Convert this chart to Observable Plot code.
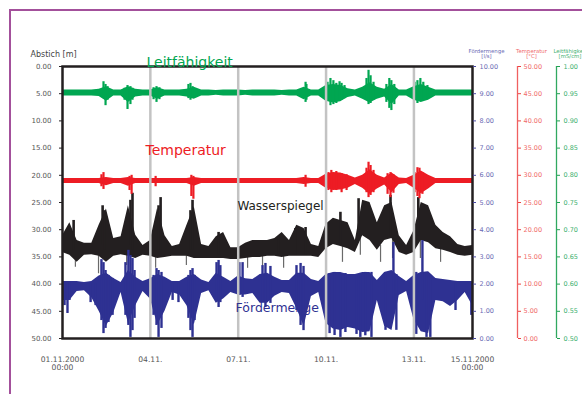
<!DOCTYPE html>
<html><head><meta charset="utf-8">
<script src="https://cdn.jsdelivr.net/npm/d3@7"></script>
<script src="https://cdn.jsdelivr.net/npm/@observablehq/plot@0.6"></script>
<style>
html,body{margin:0;padding:0;background:#fff;}
#wrap{position:relative;width:582px;height:394px;overflow:hidden;background:#fff;}
#border{position:absolute;left:9px;top:9px;width:700px;height:500px;border-left:2px solid #a3509b;border-top:2px solid #a3509b;pointer-events:none;}
</style></head><body>
<div id="wrap"><div id="chart"></div><div id="border"></div></div>
<script>
// ---- base envelopes, 6-hourly samples 01.11.2000 00:00 .. 15.11.2000 00:00 (57 values) ----
const leitHi = [
 0.957,0.957,0.957,0.957,0.957,0.958,0.963,0.957,0.957,0.963,
 0.958,0.957,0.957,0.961,0.957,0.957,0.957,0.958,0.962,0.957,
 0.957,0.956,0.957,0.957,0.957,0.956,0.957,0.957,0.957,0.957,
 0.956,0.957,0.957,0.962,0.957,0.957,0.965,0.967,0.965,0.959,
 0.957,0.962,0.970,0.962,0.958,0.967,0.957,0.957,0.963,0.967,
 0.962,0.957,0.957,0.957,0.957,0.957,0.957];
const leitLo = [
 0.946,0.946,0.946,0.946,0.946,0.945,0.936,0.946,0.946,0.934,
 0.944,0.946,0.946,0.940,0.946,0.946,0.946,0.944,0.940,0.946,
 0.946,0.947,0.946,0.946,0.946,0.947,0.946,0.946,0.946,0.946,
 0.947,0.946,0.946,0.939,0.946,0.946,0.936,0.933,0.935,0.943,
 0.946,0.940,0.933,0.940,0.944,0.930,0.946,0.946,0.938,0.934,
 0.938,0.946,0.946,0.946,0.946,0.946,0.946];
const tempHi = [
 29.4,29.4,29.4,29.4,29.4,29.4,29.6,29.4,29.4,29.6,
 29.4,29.4,29.4,29.4,29.4,29.4,29.4,29.4,29.6,29.4,
 29.4,29.4,29.4,29.4,29.4,29.4,29.4,29.4,29.4,29.4,
 29.4,29.4,29.4,29.6,29.4,29.4,30.2,30.5,30.4,30.0,
 29.5,30.0,31.0,30.0,29.5,30.4,29.5,29.4,30.0,30.8,
 30.0,29.4,29.4,29.4,29.4,29.4,29.4];
const tempLo = [
 28.5,28.5,28.5,28.5,28.5,28.5,28.1,28.5,28.5,28.0,
 28.5,28.5,28.5,28.5,28.5,28.5,28.5,28.5,28.0,28.5,
 28.5,28.5,28.5,28.5,28.5,28.5,28.5,28.5,28.5,28.5,
 28.5,28.5,28.5,28.3,28.5,28.5,27.6,27.2,27.3,27.6,
 28.3,27.6,26.5,27.5,28.2,26.8,28.3,28.5,27.6,26.6,
 27.5,28.5,28.5,28.5,28.5,28.5,28.5];
// Wasserspiegel as Abstich [m]
const wasserTop = [
 31.1,28.7,32.0,32.5,32.5,29.2,26.2,31.6,31.3,25.6,
 31.0,32.9,32.0,26.0,31.1,33.1,32.7,29.2,25.8,32.7,
 33.1,31.3,30.5,33.3,33.3,32.5,32.0,32.0,32.0,31.6,
 30.5,32.0,29.2,29.8,32.7,33.1,29.0,27.9,28.3,28.7,
 32.0,24.6,25.0,28.7,25.6,25.0,31.1,32.9,30.2,25.0,
 25.6,29.2,30.5,31.3,32.7,33.1,32.9];
const wasserBot = [
 34.2,34.7,36.0,34.7,34.6,34.9,36.0,34.9,34.6,34.9,
 35.3,34.7,34.9,35.3,35.1,34.9,34.9,34.9,35.3,35.3,
 35.3,35.3,35.3,35.5,35.5,35.3,35.1,35.1,34.9,34.9,
 35.1,34.9,34.9,34.9,34.9,35.1,33.5,32.7,33.1,33.5,
 34.2,31.1,32.0,33.8,32.0,31.6,34.2,34.7,34.2,32.0,
 32.4,33.5,33.8,34.2,34.7,34.9,34.7];
const foerderHi = [
 2.10,2.10,2.10,2.06,2.10,2.30,2.40,2.21,2.06,2.50,
 2.25,2.10,2.20,2.35,2.25,2.10,2.10,2.25,2.35,2.15,
 2.06,2.40,2.25,2.10,2.30,2.20,2.17,2.35,2.40,2.25,
 2.13,2.13,2.40,2.40,2.17,2.10,2.35,2.43,2.43,2.35,
 2.35,2.43,2.43,2.13,2.43,2.50,2.28,2.10,2.32,2.43,
 2.45,2.21,2.17,2.13,2.10,2.10,2.10];
const foerderLo = [
 1.40,1.40,1.73,1.76,1.50,1.00,0.45,0.95,1.69,0.55,
 1.20,1.73,1.45,0.50,1.00,1.69,1.60,1.20,0.50,1.65,
 1.76,1.30,1.45,1.69,1.60,1.60,1.65,1.30,1.30,1.55,
 1.69,1.65,1.10,0.45,1.54,1.69,0.55,0.35,0.29,0.40,
 0.35,0.22,0.25,1.40,0.45,0.29,1.58,1.73,0.70,0.25,
 0.18,1.40,1.35,1.18,1.40,1.69,1.21];

// ---- narrow spikes: day since 01.11.2000 00:00, upper value, lower value ----
const leitSpikeDay = [1.40,1.47,1.54,2.12,2.22,2.32,2.39,3.11,3.21,3.31,4.30,4.37,4.44,8.30,8.33,9.05,9.15,9.25,9.35,9.46,9.53,9.63,10.38,10.45,10.52,10.62,11.06,11.16,11.23,11.33,12.02,12.12,12.22,12.32,12.46];
const leitSpikeHi  = [0.972,0.967,0.963,0.960,0.965,0.963,0.960,0.961,0.963,0.961,0.967,0.969,0.963,0.971,0.967,0.971,0.978,0.974,0.969,0.972,0.969,0.965,0.978,0.993,0.983,0.971,0.967,0.978,0.974,0.967,0.971,0.974,0.978,0.971,0.965];
const leitSpikeLo  = [0.941,0.928,0.938,0.938,0.921,0.930,0.938,0.939,0.934,0.939,0.941,0.938,0.941,0.934,0.938,0.938,0.928,0.930,0.932,0.936,0.938,0.941,0.938,0.930,0.932,0.938,0.934,0.923,0.919,0.930,0.938,0.932,0.936,0.939,0.941];

const tempSpikeDay = [1.33,1.40,2.29,2.36,3.18,4.40,4.47,8.30,9.08,9.18,9.35,9.53,9.70,10.38,10.45,10.52,10.62,11.10,11.20,11.30,12.02,12.12,12.19,12.29];
const tempSpikeHi  = [30.1,30.5,29.8,30.0,29.8,30.0,29.8,30.0,30.5,30.9,30.7,30.3,30.1,31.3,32.4,31.8,30.9,30.3,30.5,30.1,30.5,31.4,31.3,30.5];
const tempSpikeLo  = [27.9,27.4,27.2,26.5,27.9,26.1,25.6,27.8,27.2,26.8,27.2,26.8,27.2,26.8,25.9,26.3,26.8,26.5,25.9,26.7,26.8,26.1,25.7,26.5];

const wasserSpikeDay = [0.38,1.37,1.43,2.32,2.39,3.28,3.35,4.37,4.44,5.33,7.37,7.95,8.30,9.49,10.11,11.20,12.15];
const wasserSpikeTop = [28.3,25.6,26.5,24.6,23.3,25.6,24.1,26.5,24.6,30.5,31.3,29.8,29.6,26.8,24.3,23.7,24.1];
const wasserSpikeBot = [33.8,32.9,33.8,32.9,33.8,33.8,33.8,33.8,33.8,34.7,34.7,34.7,34.7,32.9,31.1,31.1,31.1];
const wasserWispDay = [0.44,1.23,2.19,3.18,4.23,6.32,6.83,7.55,9.56,10.17,10.86,11.27,12.22,12.91];
const wasserWispTop = [32.9,32.9,32.9,32.9,32.9,33.8,33.8,33.8,32.0,31.1,32.9,31.1,31.1,32.9];
const wasserWispBot = [36.9,38.1,36.6,37.1,36.6,37.1,37.5,37.1,36.0,34.7,36.0,35.3,35.3,36.0];

const foerderSpikeDay = [0.07,0.17,0.24,0.96,1.13,1.33,1.40,1.47,1.57,1.71,2.15,2.25,2.32,2.39,2.46,3.11,3.21,3.28,3.38,3.76,3.96,4.30,4.37,4.44,4.51,5.26,5.33,5.39,6.04,6.15,6.83,6.93,7.10,7.99,8.13,8.23,9.12,9.29,9.49,9.66,10.04,10.17,10.34,10.55,11.03,11.30,11.40,12.08,12.29,12.43,12.56,13.42,13.96];
const foerderSpikeHi  = [2.06,2.02,2.06,2.02,2.02,2.90,2.79,2.50,2.32,2.21,2.79,3.24,3.05,2.94,2.50,2.32,2.57,2.50,2.43,2.02,2.02,2.32,2.50,2.57,2.32,2.79,2.87,2.68,2.79,2.79,2.68,2.76,2.65,2.68,2.76,2.65,2.39,2.43,2.32,2.39,2.35,2.32,2.43,2.43,2.43,3.53,2.35,2.43,3.60,2.43,2.32,2.02,2.02];
const foerderSpikeLo  = [1.21,0.92,1.40,1.32,1.21,0.66,0.18,0.37,0.59,0.85,0.85,0.48,0.04,0.29,0.74,0.85,0.48,0.04,0.37,1.40,1.32,0.74,0.29,0.04,0.66,1.40,1.14,1.32,1.58,1.51,1.32,1.14,1.29,1.03,0.48,0.29,0.18,0.11,0.04,0.22,0.15,0.04,0.10,0.04,0.30,1.40,0.30,0.15,1.40,0.04,0.04,1.03,0.85];

// ---- axes ----
const xStart = new Date(2000, 10, 1), xEnd = new Date(2000, 10, 15);
const xTickDates = [new Date(2000,10,1), new Date(2000,10,4), new Date(2000,10,7), new Date(2000,10,10), new Date(2000,10,13), new Date(2000,10,15)];
const xTickLabels = ["01.11.2000\n00:00", "04.11.", "07.11.", "10.11.", "13.11.", "15.11.2000\n00:00"];
const gridDates = [new Date(2000,10,4), new Date(2000,10,7), new Date(2000,10,10), new Date(2000,10,13)];
const abstichTicks = [0,5,10,15,20,25,30,35,40,45,50];
const foerderTicks = [0,1,2,3,4,5,6,7,8,9,10];
const tempTicks = [0,5,10,15,20,25,30,35,40,45,50];
const leitTicks = [0.50,0.55,0.60,0.65,0.70,0.75,0.80,0.85,0.90,0.95,1.00];

const C = {leit:"#00a651", temp:"#ed1c24", wasser:"#231f20", foerder:"#2e3192"};

// secondary axes expressed on the primary (Abstich, 0..50 top-down) scale
const fToY = b => 50 - 5 * b;
const tToY = r => 50 - r;
const lToY = g => 50 - (g - 0.5) * 100;
const dayToDate = d => new Date(+xStart + d * 864e5);

const dates = d3.timeHour.every(6).range(xStart, new Date(2000, 10, 15, 1));
const rows = dates.map((d, i) => ({
  date: d,
  lHi: lToY(leitHi[i]), lLo: lToY(leitLo[i]),
  tHi: tToY(tempHi[i]), tLo: tToY(tempLo[i]),
  wTop: wasserTop[i], wBot: wasserBot[i],
  fHi: fToY(foerderHi[i]), fLo: fToY(foerderLo[i])
}));
const spikes = (days, a, b, f) => days.map((d, i) => ({date: dayToDate(d), y1: f(a[i]), y2: f(b[i])}));
const id = v => v;
const leitSp = spikes(leitSpikeDay, leitSpikeHi, leitSpikeLo, lToY);
const tempSp = spikes(tempSpikeDay, tempSpikeHi, tempSpikeLo, tToY);
const wasSp = spikes(wasserSpikeDay, wasserSpikeTop, wasserSpikeBot, id);
const wasWisp = spikes(wasserWispDay, wasserWispTop, wasserWispBot, id);
const foeSp = spikes(foerderSpikeDay, foerderSpikeHi, foerderSpikeLo, fToY);

const labelMap = new Map(xTickDates.map((d, i) => [+d, xTickLabels[i]]));

const seriesLabels = [
  {name: "Leitfähigkeit", date: new Date(2000,10,3,20,50), level: 0.0, color: C.leit, size: 14},
  {name: "Temperatur", date: new Date(2000,10,3,20,0), level: 16.2, color: C.temp, size: 14},
  {name: "Wasserspiegel", date: new Date(2000,10,6,23,20), level: 26.4, color: C.wasser, size: 12},
  {name: "Fördermenge", date: new Date(2000,10,6,21,50), level: 45.2, color: C.foerder, size: 12.5}
];

const chart = Plot.plot({
  width: 582, height: 394,
  marginLeft: 62, marginRight: 110, marginTop: 66, marginBottom: 56,
  style: {fontFamily: "'DejaVu Sans', Verdana, sans-serif", background: "transparent"},
  x: {type: "time", domain: [xStart, xEnd], label: null},
  y: {domain: [0, 50], reverse: true, label: null},
  marks: [
    Plot.ruleX(wasWisp, {x: "date", y1: "y1", y2: "y2", stroke: "#6a6a6a", strokeWidth: 1.2}),
    Plot.areaY(rows, {x: "date", y1: "wTop", y2: "wBot", fill: C.wasser}),
    Plot.ruleX(wasSp, {x: "date", y1: "y1", y2: "y2", stroke: C.wasser, strokeWidth: 2.6}),
    Plot.areaY(rows, {x: "date", y1: "fHi", y2: "fLo", fill: C.foerder}),
    Plot.ruleX(foeSp, {x: "date", y1: "y1", y2: "y2", stroke: C.foerder, strokeWidth: 2.4}),
    Plot.areaY(rows, {x: "date", y1: "tHi", y2: "tLo", fill: C.temp}),
    Plot.ruleX(tempSp, {x: "date", y1: "y1", y2: "y2", stroke: C.temp, strokeWidth: 2.2}),
    Plot.areaY(rows, {x: "date", y1: "lHi", y2: "lLo", fill: C.leit}),
    Plot.ruleX(leitSp, {x: "date", y1: "y1", y2: "y2", stroke: C.leit, strokeWidth: 2.2}),
    Plot.ruleX(gridDates, {stroke: "#c3c3c3", strokeWidth: 2.5}),
    Plot.frame({stroke: "#231f20", strokeWidth: 2.5}),
    // left axis
    Plot.axisY(abstichTicks, {anchor: "left", tickFormat: d => d.toFixed(2), tickSize: 3, tickPadding: 8, fontSize: 7, fill: "#555", stroke: "#231f20", label: null}),
    Plot.text(["Abstich [m]"], {x: () => xStart, y: () => 0, dx: -9, dy: -9.5, lineAnchor: "bottom", textAnchor: "middle", fontSize: 8, fill: "#444"}),
    // bottom axis
    Plot.axisX(xTickDates, {tickSize: 0, tickPadding: 17, tickFormat: d => labelMap.get(+d), fontSize: 7.6, fill: "#555", lineHeight: 1.15, label: null}),
    // Fördermenge axis
    Plot.axisY(foerderTicks.map(fToY), {anchor: "right", tickFormat: y => ((50 - y) / 5).toFixed(2), tickSize: 3, tickPadding: 4, fontSize: 6.5, fill: "#6a6ab4", stroke: "#4a4aa0", label: null}),
    Plot.text(["Fördermenge\n[l/s]"], {x: () => xEnd, y: () => 0, dx: 14, dy: -8.5, lineAnchor: "bottom", textAnchor: "middle", fontSize: 5.4, lineHeight: 0.95, fill: "#6a6ab4"}),
    // Temperatur axis
    Plot.ruleX([xEnd], {dx: 45, stroke: "#f06060", strokeWidth: 1.3}),
    Plot.axisY(tempTicks.map(tToY), {anchor: "right", dx: 45, tickFormat: y => (50 - y).toFixed(2), tickSize: 3, tickPadding: 3, fontSize: 6.5, fill: "#f06a6a", stroke: "#ee4040", label: null}),
    Plot.text(["Temperatur\n[°C]"], {x: () => xEnd, y: () => 0, dx: 59, dy: -8.5, lineAnchor: "bottom", textAnchor: "middle", fontSize: 5.4, lineHeight: 0.95, fill: "#f06a6a"}),
    // Leitfähigkeit axis
    Plot.ruleX([xEnd], {dx: 84, stroke: "#30a860", strokeWidth: 1.3}),
    Plot.axisY(leitTicks.map(lToY), {anchor: "right", dx: 84, tickFormat: y => (0.5 + (50 - y) / 100).toFixed(2), tickSize: 3, tickPadding: 4, fontSize: 6.5, fill: "#40b070", stroke: "#20a050", label: null}),
    Plot.text(["Leitfähigkeit\n[mS/cm]"], {x: () => xEnd, y: () => 0, dx: 97.5, dy: -8.5, lineAnchor: "bottom", textAnchor: "middle", fontSize: 5.4, lineHeight: 0.95, fill: "#40b070"}),
    // series labels
    ...seriesLabels.map(s => Plot.text([s], {x: "date", y: "level", text: "name", fill: s.color, fontSize: s.size, textAnchor: "start", lineAnchor: "bottom"}))
  ]
});
document.getElementById("chart").appendChild(chart);
</script>
</body></html>
